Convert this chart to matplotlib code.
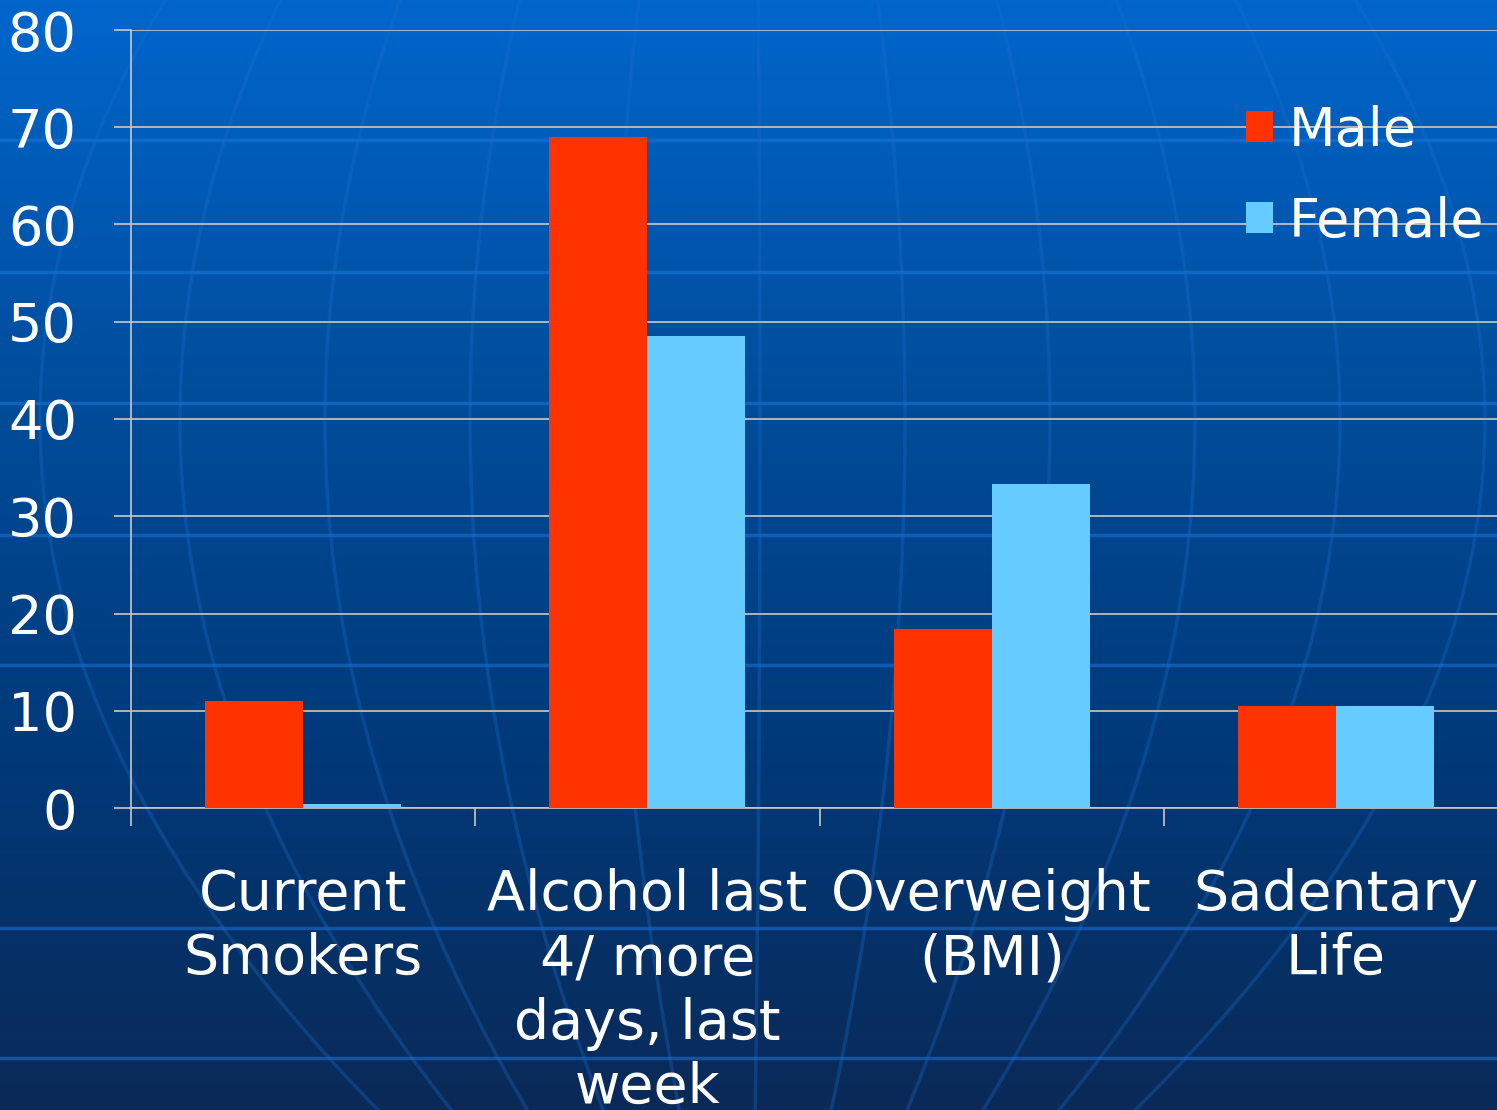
import numpy as np
import matplotlib.pyplot as plt
from matplotlib.colors import LinearSegmentedColormap

# data
categories = ['Current\nSmokers', 'Alcohol last\n4/ more\ndays, last\nweek',
              'Overweight\n(BMI)', 'Sadentary\nLife']
male = [11.0, 69.0, 18.4, 10.5]
female = [0.4, 48.5, 33.3, 10.5]

plt.rcParams['font.family'] = 'DejaVu Sans'

fig = plt.figure(figsize=(14.97, 11.10), dpi=100)

# slide-style background: blue gradient with faint lines
bg = fig.add_axes([0, 0, 1, 1], zorder=-2)
cmap = LinearSegmentedColormap.from_list('slide', ['#0066CC', '#004E9E', '#003A7A', '#0A2A58'])
grad = np.linspace(0, 1, 256).reshape(-1, 1)
bg.imshow(grad, cmap=cmap, aspect='auto', extent=[0, 1497, 1110, 0])
for yy in [140, 272, 403, 535, 665, 928, 1058]:
    bg.axhline(yy, color='#1E78E0', lw=2.5, alpha=0.5)
ys = np.linspace(0, 1110, 200)
for x0 in [40, 180, 325, 470, 615, 760, 905, 1050, 1195, 1340, 1485]:
    k = (750 - x0) / 750.0
    xs = x0 + 0.00075 * k * (ys - 420) ** 2
    bg.plot(xs, ys, color='#1E6FD0', lw=2.5, alpha=0.3)
bg.set_xlim(0, 1497)
bg.set_ylim(1110, 0)
bg.axis('off')

ax = fig.add_axes([131 / 1497, 1 - 808 / 1110, 1377 / 1497, 778 / 1110])
ax.set_facecolor('none')

x = np.arange(len(categories))
w = 0.285
ax.bar(x - w / 2, male, width=w, color='#FF3300', label='Male', zorder=3)
ax.bar(x + w / 2, female, width=w, color='#66CCFF', label='Female', zorder=3)

ax.set_xlim(-0.5, len(categories) - 0.5)
ax.set_ylim(0, 80)
ax.set_yticks(range(0, 81, 10))
ax.yaxis.grid(True, color='#C8C8C8', lw=1.2, zorder=0)
ax.tick_params(axis='y', colors='#C8C8C8', length=12, width=1.2, labelcolor='white',
               labelsize=39, pad=27)

ax.set_xticks(np.arange(len(categories) + 1) - 0.5)
ax.set_xticklabels([])
ax.set_xticks(x, minor=True)
ax.set_xticklabels(categories, minor=True, fontsize=40, color='white', linespacing=1.25)
ax.tick_params(axis='x', which='major', colors='#C8C8C8', length=13, width=1.2)
ax.tick_params(axis='x', which='minor', length=0, pad=43)

for s in ['top', 'right']:
    ax.spines[s].set_visible(False)
for s in ['left', 'bottom']:
    ax.spines[s].set_color('#C8C8C8')
    ax.spines[s].set_linewidth(1.2)

ax.legend(loc='upper left', bbox_to_anchor=(0.774, 0.967),
          frameon=False, fontsize=39, labelcolor='white', handlelength=0.5,
          handleheight=0.5, handletextpad=0.3, labelspacing=0.72)

fig.savefig('out.png', dpi=100)
